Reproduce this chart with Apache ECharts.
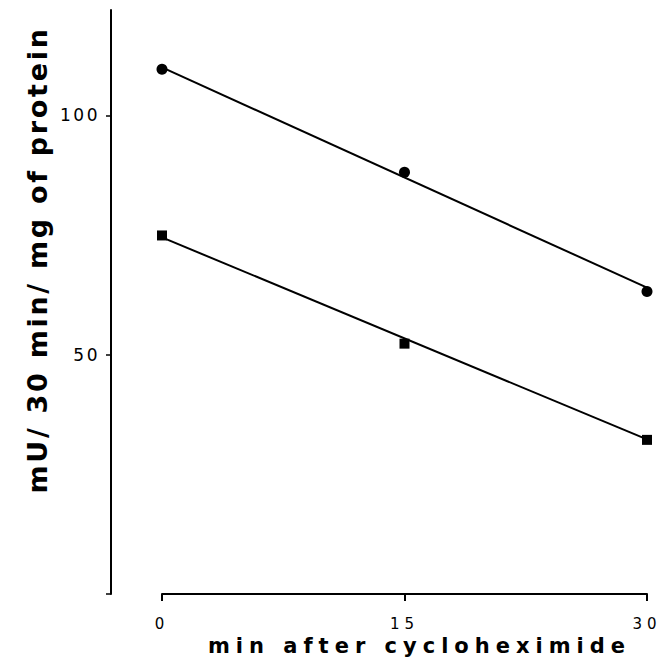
<!DOCTYPE html>
<html>
<head>
<meta charset="utf-8">
<script src="https://cdn.jsdelivr.net/npm/echarts@6/dist/echarts.min.js"></script>
<style>
  html, body { margin: 0; padding: 0; background: #fff; }
  #chart { width: 663px; height: 665px; }
  /* the scanned figure uses widely tracked lettering */
  #chart text[style*="27px"] { letter-spacing: 2.7px; }
  #chart text[style*="21px"] { letter-spacing: 6px; }
  #chart text[style*="17px"] { letter-spacing: 2.5px; }
  #chart text[style*="15px"] { letter-spacing: 5px; }
</style>
</head>
<body>
<div id="chart"></div>
<script>
// measured points (minutes after cycloheximide)
const times = [0, 15, 30];
const circleVals = [109.6, 88.1, 63.2];
const squareVals = [74.9, 52.3, 32.2];

// drawn fit lines, read at both ends
const fitTimes = [0, 30];
const circleFit = [110, 64];
const squareFit = [74.5, 32.3];

const xTicks = [0, 15, 30];
const yTicks = [0, 50, 100];
const yLabels = [50, 100];

const pairs = (xs, ys) => xs.map((x, i) => [x, ys[i]]);

const chart = echarts.init(document.getElementById('chart'), null, { renderer: 'svg' });

const option = {
  animation: false,
  backgroundColor: '#fff',
  grid: { left: 162, right: 16, top: 10, bottom: 71 },
  xAxis: {
    type: 'value',
    min: 0,
    max: 30,
    name: 'min after cycloheximide',
    nameLocation: 'middle',
    nameGap: 36,
    nameTextStyle: {
      fontFamily: 'DejaVu Sans', fontWeight: 'bold', fontSize: 21, color: '#000',
      padding: [0, 0, 0, 30]
    },
    axisLine: { show: true, onZero: false, lineStyle: { color: 'rgb(0,0,0)', width: 2 } },
    axisTick: { show: true, inside: false, length: 7, customValues: xTicks, lineStyle: { color: '#000', width: 2 } },
    axisLabel: { customValues: xTicks, margin: 22, fontFamily: 'DejaVu Sans', fontSize: 15, color: '#000' },
    splitLine: { show: false }
  },
  yAxis: {
    type: 'value',
    min: 0,
    max: 122,
    offset: 51,
    name: 'mU/ 30 min/ mg of protein',
    nameLocation: 'middle',
    nameRotate: 90,
    nameGap: 60,
    nameTextStyle: {
      fontFamily: 'DejaVu Sans', fontWeight: 'bold', fontSize: 27, color: '#000',
      padding: [0, 0, 0, 84]
    },
    axisLine: { show: true, onZero: false, lineStyle: { color: '#000', width: 2 } },
    axisTick: { show: true, inside: false, length: 5, customValues: yTicks, lineStyle: { color: '#000', width: 1.5 } },
    axisLabel: { customValues: yLabels, margin: 11, fontFamily: 'DejaVu Sans', fontSize: 17, color: '#000' },
    splitLine: { show: false }
  },
  series: [
    {
      type: 'line',
      data: pairs(fitTimes, circleFit),
      symbol: 'none',
      lineStyle: { color: '#000', width: 2 },
      silent: true,
      // baseline of the time axis, in case the axis line itself gets lost
      markLine: {
        silent: true,
        symbol: 'none',
        label: { show: false },
        lineStyle: { color: '#000', width: 2, type: 'solid' },
        data: [{ yAxis: 0 }]
      }
    },
    {
      type: 'line',
      data: pairs(fitTimes, squareFit),
      symbol: 'none',
      lineStyle: { color: '#000', width: 2 },
      silent: true
    },
    {
      type: 'scatter',
      data: pairs(times, circleVals),
      symbol: 'circle',
      symbolSize: 11,
      itemStyle: { color: '#000', opacity: 1 }
    },
    {
      type: 'scatter',
      data: pairs(times, squareVals),
      symbol: 'rect',
      symbolSize: 10,
      itemStyle: { color: '#000', opacity: 1 }
    }
  ]
};

chart.setOption(option);
</script>
</body>
</html>
